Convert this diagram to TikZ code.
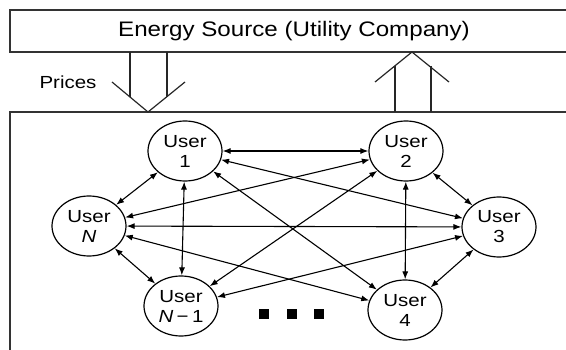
\documentclass[tikz,border=0pt]{standalone}
\usepackage{fontspec}
\usepackage{graphicx}
\setmainfont{Liberation Sans}
\usetikzlibrary{arrows.meta,shapes.geometric}
\newcommand\hstretch[1]{\scalebox{1.17}[1]{#1}}
\begin{document}
\begin{tikzpicture}[x=1pt,y=-1pt,
  user/.style={ellipse,draw,line width=1.2pt,minimum width=74pt,minimum height=60pt,
    inner sep=0pt,align=center,font=\fontsize{17.5}{20}\selectfont},
  link/.style={{Latex[length=8pt,width=6pt]}-{Latex[length=8pt,width=6pt]},line width=1.1pt},
  frame/.style={line width=1.2pt,draw=black!80},
  bigarrow/.style={line width=1.2pt,draw=black!85},
  dot/.style={fill=black,minimum size=10pt,inner sep=0pt,rectangle}]
\useasboundingbox (0,0) rectangle (566,350);
% frames
\draw[frame] (566,10) -- (10,10) -- (10,52) -- (566,52);
\draw[frame] (566,112) -- (10,112) -- (10,350);
\node[font=\fontsize{21}{24}\selectfont] (src) at (294,31) {\scalebox{1.15}[1]{Energy Source (Utility Company)}};
\node[font=\fontsize{17.5}{20}\selectfont,anchor=west] (prices) at (36,82) {\hstretch{Prices}};
% down arrow (prices)
\coordinate (dtip) at (148,112);
\draw[bigarrow] (112,82) -- (dtip) -- (185,82);
\draw[bigarrow] (130,52) -- (130,97.5);
\draw[bigarrow] (167,52) -- (167,97);
% up arrow
\coordinate (utip) at (412,52);
\draw[bigarrow] (375,82) -- (utip) -- (449,82);
\draw[bigarrow] (395,66) -- (395,112);
\draw[bigarrow] (431,66) -- (431,112);
% users
\node[user] (u1) at (185,151) {\hstretch{User}\\\hstretch{1}};
\node[user] (uN) at (89,226) {\hstretch{User}\\\hstretch{\textit{N}}};
\node[user] (uN1) at (181,306) {\hstretch{User}\\\hstretch{\textit{N}\,−\,1}};
\node[user] (u2) at (406,151) {\hstretch{User}\\\hstretch{2}};
\node[user] (u3) at (499,227) {\hstretch{User}\\\hstretch{3}};
\node[user] (u4) at (405,310) {\hstretch{User}\\\hstretch{4}};
% links
\foreach \a/\b in {u1/u2,u1/uN,u1/uN1,u1/u3,u1/u4,u2/uN,u2/uN1,u2/u3,u2/u4,uN/u3,uN/uN1,uN/u4,u3/uN1,u3/u4}
  \draw[link] (\a) -- (\b);
% dots
\node[dot] (d1) at (264,314) {};
\node[dot] (d2) at (292,314) {};
\node[dot] (d3) at (319,314) {};
\end{tikzpicture}
\end{document}
